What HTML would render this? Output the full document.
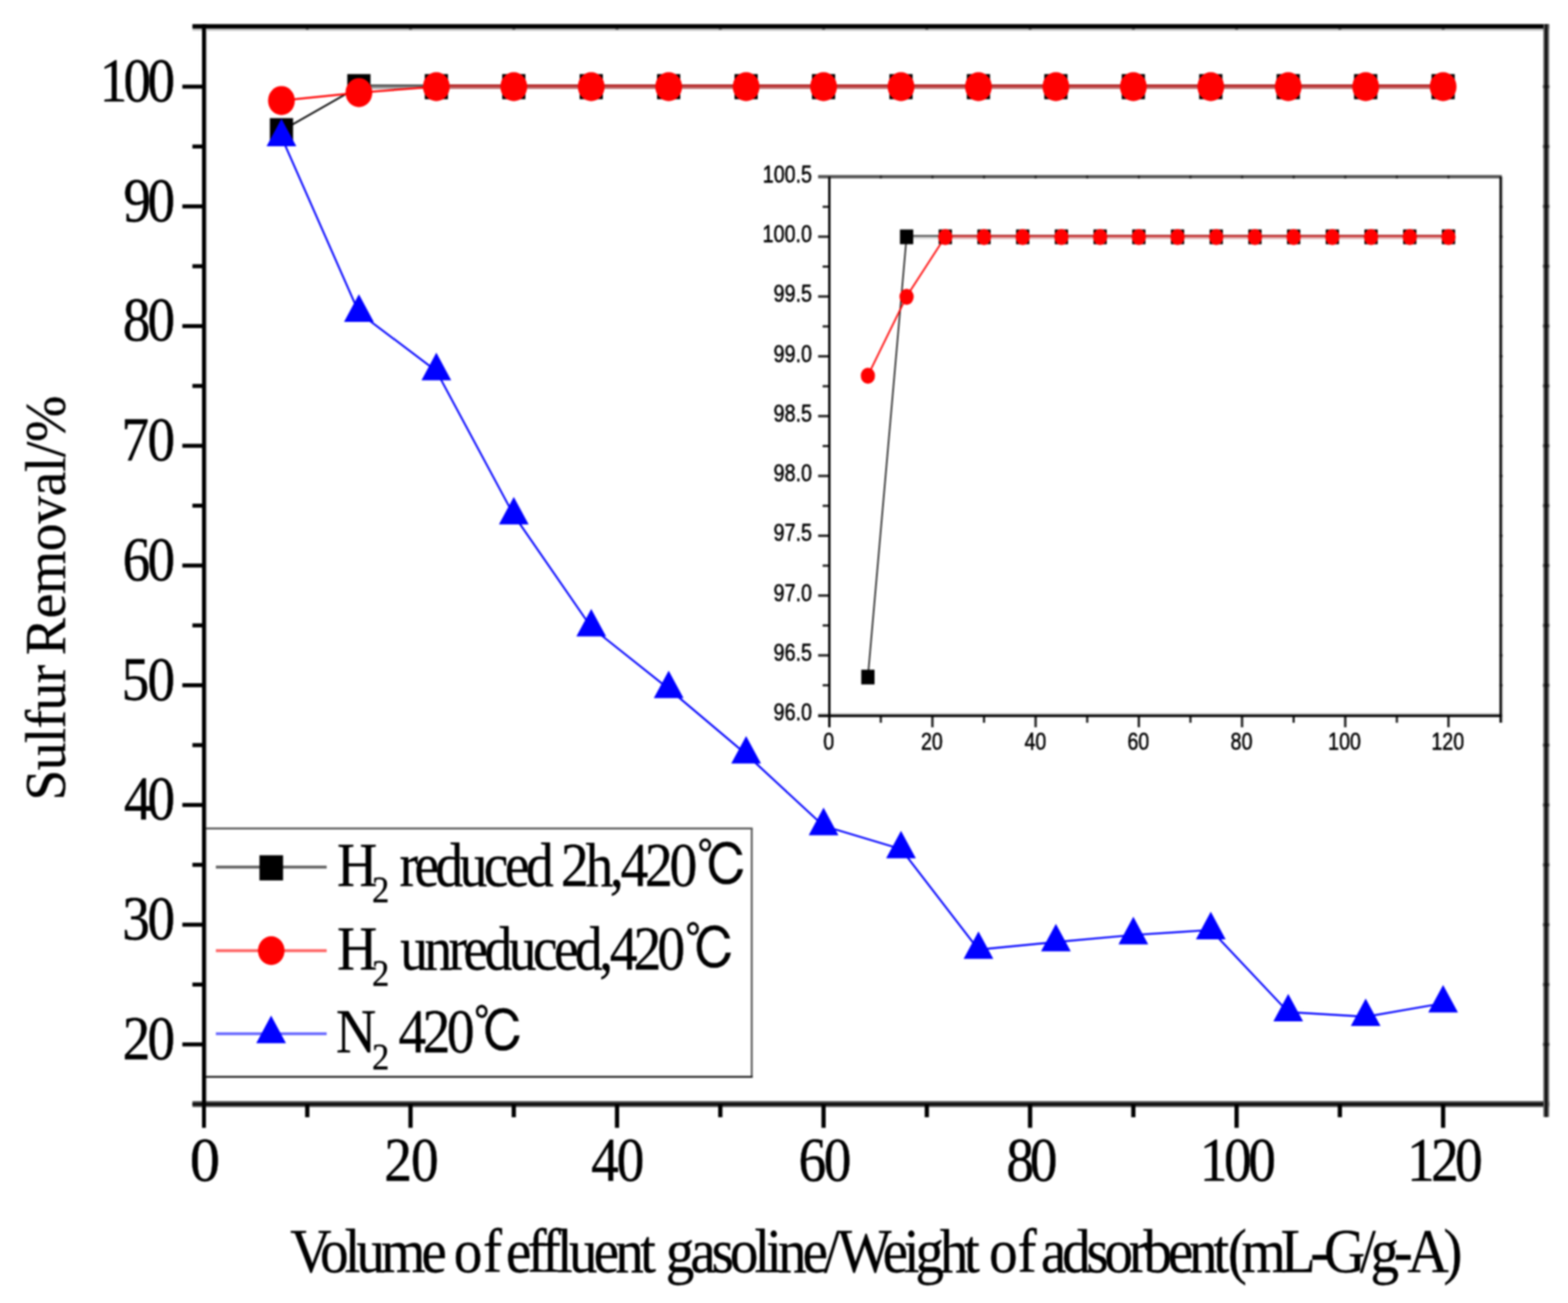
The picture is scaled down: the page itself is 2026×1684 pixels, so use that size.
<!DOCTYPE html>
<html lang="en"><head><meta charset="utf-8"><title>Sulfur Removal vs Volume of effluent gasoline</title>
<style>
html,body{margin:0;padding:0;background:#fff;}
body{width:2026px;height:1684px;overflow:hidden;}
svg{display:block;}
text{white-space:pre;}
</style></head><body>
<svg width="2026" height="1684" viewBox="0 0 2026 1684" style="filter:blur(0.8px)">
<rect x="0" y="0" width="2026" height="1684" fill="#fff"/>
<rect x="263.6" y="1070.8" width="707.6999999999999" height="320.9000000000001" fill="#fff" stroke="none"/>
<line x1="363.67" y1="168.94" x2="463.73" y2="112.00" stroke="#000" stroke-width="2.4" stroke-opacity="0.95" stroke-linecap="round"/>
<rect x="463.73" y="109.10" width="100.07" height="3.4" fill="#555"/>
<rect x="463.73" y="112.50" width="100.07" height="2.4" fill="#a0a0a0"/>
<rect x="563.80" y="109.10" width="100.06" height="3.4" fill="#555"/>
<rect x="563.80" y="112.50" width="100.06" height="2.4" fill="#a0a0a0"/>
<rect x="663.86" y="109.10" width="100.07" height="3.4" fill="#555"/>
<rect x="663.86" y="112.50" width="100.07" height="2.4" fill="#a0a0a0"/>
<rect x="763.93" y="109.10" width="100.06" height="3.4" fill="#555"/>
<rect x="763.93" y="112.50" width="100.06" height="2.4" fill="#a0a0a0"/>
<rect x="863.99" y="109.10" width="100.07" height="3.4" fill="#555"/>
<rect x="863.99" y="112.50" width="100.07" height="2.4" fill="#a0a0a0"/>
<rect x="964.06" y="109.10" width="100.06" height="3.4" fill="#555"/>
<rect x="964.06" y="112.50" width="100.06" height="2.4" fill="#a0a0a0"/>
<rect x="1064.12" y="109.10" width="100.07" height="3.4" fill="#555"/>
<rect x="1064.12" y="112.50" width="100.07" height="2.4" fill="#a0a0a0"/>
<rect x="1164.18" y="109.10" width="100.07" height="3.4" fill="#555"/>
<rect x="1164.18" y="112.50" width="100.07" height="2.4" fill="#a0a0a0"/>
<rect x="1264.25" y="109.10" width="100.07" height="3.4" fill="#555"/>
<rect x="1264.25" y="112.50" width="100.07" height="2.4" fill="#a0a0a0"/>
<rect x="1364.32" y="109.10" width="100.07" height="3.4" fill="#555"/>
<rect x="1364.32" y="112.50" width="100.07" height="2.4" fill="#a0a0a0"/>
<rect x="1464.38" y="109.10" width="100.07" height="3.4" fill="#555"/>
<rect x="1464.38" y="112.50" width="100.07" height="2.4" fill="#a0a0a0"/>
<rect x="1564.45" y="109.10" width="100.07" height="3.4" fill="#555"/>
<rect x="1564.45" y="112.50" width="100.07" height="2.4" fill="#a0a0a0"/>
<rect x="1664.51" y="109.10" width="100.07" height="3.4" fill="#555"/>
<rect x="1664.51" y="112.50" width="100.07" height="2.4" fill="#a0a0a0"/>
<rect x="1764.58" y="109.10" width="100.06" height="3.4" fill="#555"/>
<rect x="1764.58" y="112.50" width="100.06" height="2.4" fill="#a0a0a0"/>
<rect x="348.67" y="152.69" width="30" height="32.5" fill="#000"/>
<rect x="448.73" y="95.75" width="30" height="32.5" fill="#000"/>
<rect x="548.80" y="95.75" width="30" height="32.5" fill="#000"/>
<rect x="648.86" y="95.75" width="30" height="32.5" fill="#000"/>
<rect x="748.93" y="95.75" width="30" height="32.5" fill="#000"/>
<rect x="848.99" y="95.75" width="30" height="32.5" fill="#000"/>
<rect x="949.06" y="95.75" width="30" height="32.5" fill="#000"/>
<rect x="1049.12" y="95.75" width="30" height="32.5" fill="#000"/>
<rect x="1149.18" y="95.75" width="30" height="32.5" fill="#000"/>
<rect x="1249.25" y="95.75" width="30" height="32.5" fill="#000"/>
<rect x="1349.32" y="95.75" width="30" height="32.5" fill="#000"/>
<rect x="1449.38" y="95.75" width="30" height="32.5" fill="#000"/>
<rect x="1549.45" y="95.75" width="30" height="32.5" fill="#000"/>
<rect x="1649.51" y="95.75" width="30" height="32.5" fill="#000"/>
<rect x="1749.58" y="95.75" width="30" height="32.5" fill="#000"/>
<rect x="1849.64" y="95.75" width="30" height="32.5" fill="#000"/>
<line x1="363.67" y1="129.95" x2="463.73" y2="119.74" stroke="#f00" stroke-width="2.4" stroke-opacity="1.0" stroke-linecap="round"/>
<line x1="463.73" y1="119.74" x2="563.80" y2="112.00" stroke="#f00" stroke-width="2.4" stroke-opacity="1.0" stroke-linecap="round"/>
<rect x="563.80" y="109.10" width="100.06" height="3.4" fill="#ba2828"/>
<rect x="563.80" y="112.50" width="100.06" height="2.4" fill="#c46a6a"/>
<rect x="663.86" y="109.10" width="100.07" height="3.4" fill="#ba2828"/>
<rect x="663.86" y="112.50" width="100.07" height="2.4" fill="#c46a6a"/>
<rect x="763.93" y="109.10" width="100.06" height="3.4" fill="#ba2828"/>
<rect x="763.93" y="112.50" width="100.06" height="2.4" fill="#c46a6a"/>
<rect x="863.99" y="109.10" width="100.07" height="3.4" fill="#ba2828"/>
<rect x="863.99" y="112.50" width="100.07" height="2.4" fill="#c46a6a"/>
<rect x="964.06" y="109.10" width="100.06" height="3.4" fill="#ba2828"/>
<rect x="964.06" y="112.50" width="100.06" height="2.4" fill="#c46a6a"/>
<rect x="1064.12" y="109.10" width="100.07" height="3.4" fill="#ba2828"/>
<rect x="1064.12" y="112.50" width="100.07" height="2.4" fill="#c46a6a"/>
<rect x="1164.18" y="109.10" width="100.07" height="3.4" fill="#ba2828"/>
<rect x="1164.18" y="112.50" width="100.07" height="2.4" fill="#c46a6a"/>
<rect x="1264.25" y="109.10" width="100.07" height="3.4" fill="#ba2828"/>
<rect x="1264.25" y="112.50" width="100.07" height="2.4" fill="#c46a6a"/>
<rect x="1364.32" y="109.10" width="100.07" height="3.4" fill="#ba2828"/>
<rect x="1364.32" y="112.50" width="100.07" height="2.4" fill="#c46a6a"/>
<rect x="1464.38" y="109.10" width="100.07" height="3.4" fill="#ba2828"/>
<rect x="1464.38" y="112.50" width="100.07" height="2.4" fill="#c46a6a"/>
<rect x="1564.45" y="109.10" width="100.07" height="3.4" fill="#ba2828"/>
<rect x="1564.45" y="112.50" width="100.07" height="2.4" fill="#c46a6a"/>
<rect x="1664.51" y="109.10" width="100.07" height="3.4" fill="#ba2828"/>
<rect x="1664.51" y="112.50" width="100.07" height="2.4" fill="#c46a6a"/>
<rect x="1764.58" y="109.10" width="100.06" height="3.4" fill="#ba2828"/>
<rect x="1764.58" y="112.50" width="100.06" height="2.4" fill="#c46a6a"/>
<ellipse cx="363.67" cy="129.95" rx="17.3" ry="18.8" fill="#f00"/>
<ellipse cx="463.73" cy="119.74" rx="17.3" ry="18.8" fill="#f00"/>
<ellipse cx="563.80" cy="112.00" rx="17.3" ry="18.8" fill="#f00"/>
<ellipse cx="663.86" cy="112.00" rx="17.3" ry="18.8" fill="#f00"/>
<ellipse cx="763.93" cy="112.00" rx="17.3" ry="18.8" fill="#f00"/>
<ellipse cx="863.99" cy="112.00" rx="17.3" ry="18.8" fill="#f00"/>
<ellipse cx="964.06" cy="112.00" rx="17.3" ry="18.8" fill="#f00"/>
<ellipse cx="1064.12" cy="112.00" rx="17.3" ry="18.8" fill="#f00"/>
<ellipse cx="1164.18" cy="112.00" rx="17.3" ry="18.8" fill="#f00"/>
<ellipse cx="1264.25" cy="112.00" rx="17.3" ry="18.8" fill="#f00"/>
<ellipse cx="1364.32" cy="112.00" rx="17.3" ry="18.8" fill="#f00"/>
<ellipse cx="1464.38" cy="112.00" rx="17.3" ry="18.8" fill="#f00"/>
<ellipse cx="1564.45" cy="112.00" rx="17.3" ry="18.8" fill="#f00"/>
<ellipse cx="1664.51" cy="112.00" rx="17.3" ry="18.8" fill="#f00"/>
<ellipse cx="1764.58" cy="112.00" rx="17.3" ry="18.8" fill="#f00"/>
<ellipse cx="1864.64" cy="112.00" rx="17.3" ry="18.8" fill="#f00"/>
<line x1="363.67" y1="176.98" x2="463.73" y2="403.97" stroke="#00f" stroke-width="2.4" stroke-opacity="1.0" stroke-linecap="round"/>
<line x1="463.73" y1="403.97" x2="563.80" y2="479.47" stroke="#00f" stroke-width="2.4" stroke-opacity="1.0" stroke-linecap="round"/>
<line x1="563.80" y1="479.47" x2="663.86" y2="665.76" stroke="#00f" stroke-width="2.4" stroke-opacity="1.0" stroke-linecap="round"/>
<line x1="663.86" y1="665.76" x2="763.93" y2="810.58" stroke="#00f" stroke-width="2.4" stroke-opacity="1.0" stroke-linecap="round"/>
<line x1="763.93" y1="810.58" x2="863.99" y2="890.27" stroke="#00f" stroke-width="2.4" stroke-opacity="1.0" stroke-linecap="round"/>
<line x1="863.99" y1="890.27" x2="964.06" y2="974.75" stroke="#00f" stroke-width="2.4" stroke-opacity="1.0" stroke-linecap="round"/>
<line x1="964.06" y1="974.75" x2="1064.12" y2="1067.43" stroke="#00f" stroke-width="2.4" stroke-opacity="1.0" stroke-linecap="round"/>
<line x1="1064.12" y1="1067.43" x2="1164.18" y2="1097.29" stroke="#00f" stroke-width="2.4" stroke-opacity="1.0" stroke-linecap="round"/>
<line x1="1164.18" y1="1097.29" x2="1264.25" y2="1227.26" stroke="#00f" stroke-width="2.4" stroke-opacity="1.0" stroke-linecap="round"/>
<line x1="1264.25" y1="1227.26" x2="1364.32" y2="1217.51" stroke="#00f" stroke-width="2.4" stroke-opacity="1.0" stroke-linecap="round"/>
<line x1="1364.32" y1="1217.51" x2="1464.38" y2="1208.38" stroke="#00f" stroke-width="2.4" stroke-opacity="1.0" stroke-linecap="round"/>
<line x1="1464.38" y1="1208.38" x2="1564.45" y2="1201.88" stroke="#00f" stroke-width="2.4" stroke-opacity="1.0" stroke-linecap="round"/>
<line x1="1564.45" y1="1201.88" x2="1664.51" y2="1308.02" stroke="#00f" stroke-width="2.4" stroke-opacity="1.0" stroke-linecap="round"/>
<line x1="1664.51" y1="1308.02" x2="1764.58" y2="1314.06" stroke="#00f" stroke-width="2.4" stroke-opacity="1.0" stroke-linecap="round"/>
<line x1="1764.58" y1="1314.06" x2="1864.64" y2="1296.57" stroke="#00f" stroke-width="2.4" stroke-opacity="1.0" stroke-linecap="round"/>
<polygon points="363.67,153.38 382.87,188.98 344.47,188.98" fill="#00f"/>
<polygon points="463.73,380.37 482.93,415.97 444.53,415.97" fill="#00f"/>
<polygon points="563.80,455.87 583.00,491.47 544.60,491.47" fill="#00f"/>
<polygon points="663.86,642.16 683.06,677.76 644.66,677.76" fill="#00f"/>
<polygon points="763.93,786.98 783.13,822.58 744.73,822.58" fill="#00f"/>
<polygon points="863.99,866.67 883.19,902.27 844.79,902.27" fill="#00f"/>
<polygon points="964.06,951.15 983.26,986.75 944.86,986.75" fill="#00f"/>
<polygon points="1064.12,1043.83 1083.32,1079.43 1044.92,1079.43" fill="#00f"/>
<polygon points="1164.18,1073.69 1183.38,1109.29 1144.98,1109.29" fill="#00f"/>
<polygon points="1264.25,1203.66 1283.45,1239.26 1245.05,1239.26" fill="#00f"/>
<polygon points="1364.32,1193.91 1383.52,1229.51 1345.12,1229.51" fill="#00f"/>
<polygon points="1464.38,1184.78 1483.58,1220.38 1445.18,1220.38" fill="#00f"/>
<polygon points="1564.45,1178.28 1583.65,1213.88 1545.25,1213.88" fill="#00f"/>
<polygon points="1664.51,1284.42 1683.71,1320.02 1645.31,1320.02" fill="#00f"/>
<polygon points="1764.58,1290.46 1783.78,1326.06 1745.38,1326.06" fill="#00f"/>
<polygon points="1864.64,1272.97 1883.84,1308.57 1845.44,1308.57" fill="#00f"/>
<line x1="278.90" y1="1120.60" x2="422.10" y2="1120.60" stroke="#000" stroke-width="3.6" stroke-opacity="0.62"/>
<rect x="335.25" y="1105.35" width="30.5" height="32.5" fill="#000"/>
<line x1="278.90" y1="1228.60" x2="422.10" y2="1228.60" stroke="#f00" stroke-width="3.6" stroke-opacity="0.62"/>
<ellipse cx="350.50" cy="1228.60" rx="17.2" ry="18.6" fill="#f00"/>
<line x1="278.90" y1="1336.00" x2="422.10" y2="1336.00" stroke="#00f" stroke-width="3.6" stroke-opacity="0.62"/>
<polygon points="350.30,1312.40 369.50,1348.20 331.10,1348.20" fill="#00f"/>
<rect x="265.80" y="31.20" width="1.80" height="1391.80" fill="#cfcfcf"/>
<rect x="248.60" y="36.70" width="1753.00" height="3.10" fill="#c4c4c4"/>
<rect x="248.60" y="31.20" width="1753.00" height="5.70" fill="#000"/>
<rect x="248.60" y="1423.00" width="1753.00" height="7.80" fill="#505050"/>
<rect x="248.60" y="1425.70" width="1753.00" height="2.70" fill="#000"/>
<rect x="261.00" y="31.20" width="5.10" height="1426.40" fill="#000"/>
<rect x="1994.10" y="31.20" width="7.50" height="1412.40" fill="#5c5c5c"/>
<rect x="1996.60" y="31.20" width="2.50" height="1412.40" fill="#000"/>
<line x1="266.00" y1="1070.80" x2="972.50" y2="1070.80" stroke="#555" stroke-width="2.6" />
<line x1="971.30" y1="1070.80" x2="971.30" y2="1391.70" stroke="#555" stroke-width="2.4" />
<line x1="266.00" y1="1391.70" x2="972.50" y2="1391.70" stroke="#222" stroke-width="2.6" />
<line x1="235.60" y1="1349.80" x2="263.60" y2="1349.80" stroke="#000" stroke-width="5.2" />
<line x1="235.60" y1="1195.08" x2="263.60" y2="1195.08" stroke="#000" stroke-width="5.2" />
<line x1="235.60" y1="1040.35" x2="263.60" y2="1040.35" stroke="#000" stroke-width="5.2" />
<line x1="235.60" y1="885.62" x2="263.60" y2="885.62" stroke="#000" stroke-width="5.2" />
<line x1="235.60" y1="730.90" x2="263.60" y2="730.90" stroke="#000" stroke-width="5.2" />
<line x1="235.60" y1="576.17" x2="263.60" y2="576.17" stroke="#000" stroke-width="5.2" />
<line x1="235.60" y1="421.45" x2="263.60" y2="421.45" stroke="#000" stroke-width="5.2" />
<line x1="235.60" y1="266.73" x2="263.60" y2="266.73" stroke="#000" stroke-width="5.2" />
<line x1="235.60" y1="112.00" x2="263.60" y2="112.00" stroke="#000" stroke-width="5.2" />
<line x1="248.60" y1="1272.44" x2="263.60" y2="1272.44" stroke="#000" stroke-width="5.2" />
<line x1="248.60" y1="1117.71" x2="263.60" y2="1117.71" stroke="#000" stroke-width="5.2" />
<line x1="248.60" y1="962.99" x2="263.60" y2="962.99" stroke="#000" stroke-width="5.2" />
<line x1="248.60" y1="808.26" x2="263.60" y2="808.26" stroke="#000" stroke-width="5.2" />
<line x1="248.60" y1="653.54" x2="263.60" y2="653.54" stroke="#000" stroke-width="5.2" />
<line x1="248.60" y1="498.81" x2="263.60" y2="498.81" stroke="#000" stroke-width="5.2" />
<line x1="248.60" y1="344.09" x2="263.60" y2="344.09" stroke="#000" stroke-width="5.2" />
<line x1="248.60" y1="189.36" x2="263.60" y2="189.36" stroke="#000" stroke-width="5.2" />
<line x1="530.44" y1="1426.60" x2="530.44" y2="1457.60" stroke="#000" stroke-width="5.5" />
<line x1="797.28" y1="1426.60" x2="797.28" y2="1457.60" stroke="#000" stroke-width="5.5" />
<line x1="1064.12" y1="1426.60" x2="1064.12" y2="1457.60" stroke="#000" stroke-width="5.5" />
<line x1="1330.96" y1="1426.60" x2="1330.96" y2="1457.60" stroke="#000" stroke-width="5.5" />
<line x1="1597.80" y1="1426.60" x2="1597.80" y2="1457.60" stroke="#000" stroke-width="5.5" />
<line x1="1864.64" y1="1426.60" x2="1864.64" y2="1457.60" stroke="#000" stroke-width="5.5" />
<line x1="397.02" y1="1426.60" x2="397.02" y2="1443.90" stroke="#000" stroke-width="5.5" />
<line x1="663.86" y1="1426.60" x2="663.86" y2="1443.90" stroke="#000" stroke-width="5.5" />
<line x1="930.70" y1="1426.60" x2="930.70" y2="1443.90" stroke="#000" stroke-width="5.5" />
<line x1="1197.54" y1="1426.60" x2="1197.54" y2="1443.90" stroke="#000" stroke-width="5.5" />
<line x1="1464.38" y1="1426.60" x2="1464.38" y2="1443.90" stroke="#000" stroke-width="5.5" />
<line x1="1731.22" y1="1426.60" x2="1731.22" y2="1443.90" stroke="#000" stroke-width="5.5" />
<line x1="397.02" y1="34.30" x2="397.02" y2="38.50" stroke="#000" stroke-width="4" stroke-opacity="0.45"/>
<line x1="530.44" y1="34.30" x2="530.44" y2="38.50" stroke="#000" stroke-width="4" stroke-opacity="0.45"/>
<line x1="663.86" y1="34.30" x2="663.86" y2="38.50" stroke="#000" stroke-width="4" stroke-opacity="0.45"/>
<line x1="797.28" y1="34.30" x2="797.28" y2="38.50" stroke="#000" stroke-width="4" stroke-opacity="0.45"/>
<line x1="930.70" y1="34.30" x2="930.70" y2="38.50" stroke="#000" stroke-width="4" stroke-opacity="0.45"/>
<line x1="1064.12" y1="34.30" x2="1064.12" y2="38.50" stroke="#000" stroke-width="4" stroke-opacity="0.45"/>
<line x1="1197.54" y1="34.30" x2="1197.54" y2="38.50" stroke="#000" stroke-width="4" stroke-opacity="0.45"/>
<line x1="1330.96" y1="34.30" x2="1330.96" y2="38.50" stroke="#000" stroke-width="4" stroke-opacity="0.45"/>
<line x1="1464.38" y1="34.30" x2="1464.38" y2="38.50" stroke="#000" stroke-width="4" stroke-opacity="0.45"/>
<line x1="1597.80" y1="34.30" x2="1597.80" y2="38.50" stroke="#000" stroke-width="4" stroke-opacity="0.45"/>
<line x1="1731.22" y1="34.30" x2="1731.22" y2="38.50" stroke="#000" stroke-width="4" stroke-opacity="0.45"/>
<line x1="1864.64" y1="34.30" x2="1864.64" y2="38.50" stroke="#000" stroke-width="4" stroke-opacity="0.45"/>
<line x1="1993.30" y1="1349.80" x2="2002.30" y2="1349.80" stroke="#000" stroke-width="4" stroke-opacity="0.4"/>
<line x1="1993.30" y1="1272.44" x2="2002.30" y2="1272.44" stroke="#000" stroke-width="4" stroke-opacity="0.4"/>
<line x1="1993.30" y1="1195.08" x2="2002.30" y2="1195.08" stroke="#000" stroke-width="4" stroke-opacity="0.4"/>
<line x1="1993.30" y1="1117.71" x2="2002.30" y2="1117.71" stroke="#000" stroke-width="4" stroke-opacity="0.4"/>
<line x1="1993.30" y1="1040.35" x2="2002.30" y2="1040.35" stroke="#000" stroke-width="4" stroke-opacity="0.4"/>
<line x1="1993.30" y1="962.99" x2="2002.30" y2="962.99" stroke="#000" stroke-width="4" stroke-opacity="0.4"/>
<line x1="1993.30" y1="885.62" x2="2002.30" y2="885.62" stroke="#000" stroke-width="4" stroke-opacity="0.4"/>
<line x1="1993.30" y1="808.26" x2="2002.30" y2="808.26" stroke="#000" stroke-width="4" stroke-opacity="0.4"/>
<line x1="1993.30" y1="730.90" x2="2002.30" y2="730.90" stroke="#000" stroke-width="4" stroke-opacity="0.4"/>
<line x1="1993.30" y1="653.54" x2="2002.30" y2="653.54" stroke="#000" stroke-width="4" stroke-opacity="0.4"/>
<line x1="1993.30" y1="576.17" x2="2002.30" y2="576.17" stroke="#000" stroke-width="4" stroke-opacity="0.4"/>
<line x1="1993.30" y1="498.81" x2="2002.30" y2="498.81" stroke="#000" stroke-width="4" stroke-opacity="0.4"/>
<line x1="1993.30" y1="421.45" x2="2002.30" y2="421.45" stroke="#000" stroke-width="4" stroke-opacity="0.4"/>
<line x1="1993.30" y1="344.09" x2="2002.30" y2="344.09" stroke="#000" stroke-width="4" stroke-opacity="0.4"/>
<line x1="1993.30" y1="266.73" x2="2002.30" y2="266.73" stroke="#000" stroke-width="4" stroke-opacity="0.4"/>
<line x1="1993.30" y1="189.36" x2="2002.30" y2="189.36" stroke="#000" stroke-width="4" stroke-opacity="0.4"/>
<line x1="1993.30" y1="112.00" x2="2002.30" y2="112.00" stroke="#000" stroke-width="4" stroke-opacity="0.4"/>
<line x1="1121.41" y1="874.83" x2="1171.42" y2="305.90" stroke="#000" stroke-width="2.0" stroke-opacity="0.85" stroke-linecap="round"/>
<rect x="1171.42" y="303.70" width="50.01" height="2.6" fill="#555"/>
<rect x="1171.42" y="306.30" width="50.01" height="2.6" fill="#d7d7d7"/>
<rect x="1221.43" y="303.70" width="50.01" height="2.6" fill="#555"/>
<rect x="1221.43" y="306.30" width="50.01" height="2.6" fill="#d7d7d7"/>
<rect x="1271.44" y="303.70" width="50.01" height="2.6" fill="#555"/>
<rect x="1271.44" y="306.30" width="50.01" height="2.6" fill="#d7d7d7"/>
<rect x="1321.45" y="303.70" width="50.01" height="2.6" fill="#555"/>
<rect x="1321.45" y="306.30" width="50.01" height="2.6" fill="#d7d7d7"/>
<rect x="1371.46" y="303.70" width="50.01" height="2.6" fill="#555"/>
<rect x="1371.46" y="306.30" width="50.01" height="2.6" fill="#d7d7d7"/>
<rect x="1421.47" y="303.70" width="50.01" height="2.6" fill="#555"/>
<rect x="1421.47" y="306.30" width="50.01" height="2.6" fill="#d7d7d7"/>
<rect x="1471.48" y="303.70" width="50.01" height="2.6" fill="#555"/>
<rect x="1471.48" y="306.30" width="50.01" height="2.6" fill="#d7d7d7"/>
<rect x="1521.49" y="303.70" width="50.01" height="2.6" fill="#555"/>
<rect x="1521.49" y="306.30" width="50.01" height="2.6" fill="#d7d7d7"/>
<rect x="1571.50" y="303.70" width="50.01" height="2.6" fill="#555"/>
<rect x="1571.50" y="306.30" width="50.01" height="2.6" fill="#d7d7d7"/>
<rect x="1621.51" y="303.70" width="50.01" height="2.6" fill="#555"/>
<rect x="1621.51" y="306.30" width="50.01" height="2.6" fill="#d7d7d7"/>
<rect x="1671.52" y="303.70" width="50.01" height="2.6" fill="#555"/>
<rect x="1671.52" y="306.30" width="50.01" height="2.6" fill="#d7d7d7"/>
<rect x="1721.53" y="303.70" width="50.01" height="2.6" fill="#555"/>
<rect x="1721.53" y="306.30" width="50.01" height="2.6" fill="#d7d7d7"/>
<rect x="1771.54" y="303.70" width="50.01" height="2.6" fill="#555"/>
<rect x="1771.54" y="306.30" width="50.01" height="2.6" fill="#d7d7d7"/>
<rect x="1821.55" y="303.70" width="50.01" height="2.6" fill="#555"/>
<rect x="1821.55" y="306.30" width="50.01" height="2.6" fill="#d7d7d7"/>
<rect x="1112.81" y="865.53" width="17.2" height="19" fill="#000"/>
<rect x="1162.82" y="296.60" width="17.2" height="19" fill="#000"/>
<rect x="1212.83" y="296.60" width="17.2" height="19" fill="#000"/>
<rect x="1262.84" y="296.60" width="17.2" height="19" fill="#000"/>
<rect x="1312.85" y="296.60" width="17.2" height="19" fill="#000"/>
<rect x="1362.86" y="296.60" width="17.2" height="19" fill="#000"/>
<rect x="1412.87" y="296.60" width="17.2" height="19" fill="#000"/>
<rect x="1462.88" y="296.60" width="17.2" height="19" fill="#000"/>
<rect x="1512.89" y="296.60" width="17.2" height="19" fill="#000"/>
<rect x="1562.90" y="296.60" width="17.2" height="19" fill="#000"/>
<rect x="1612.91" y="296.60" width="17.2" height="19" fill="#000"/>
<rect x="1662.92" y="296.60" width="17.2" height="19" fill="#000"/>
<rect x="1712.93" y="296.60" width="17.2" height="19" fill="#000"/>
<rect x="1762.94" y="296.60" width="17.2" height="19" fill="#000"/>
<rect x="1812.95" y="296.60" width="17.2" height="19" fill="#000"/>
<rect x="1862.96" y="296.60" width="17.2" height="19" fill="#000"/>
<line x1="1121.41" y1="485.24" x2="1171.42" y2="383.20" stroke="#f00" stroke-width="2.2" stroke-opacity="0.95" stroke-linecap="round"/>
<line x1="1171.42" y1="383.20" x2="1221.43" y2="305.90" stroke="#f00" stroke-width="2.2" stroke-opacity="0.95" stroke-linecap="round"/>
<rect x="1221.43" y="303.70" width="50.01" height="2.6" fill="#c31e1e"/>
<rect x="1221.43" y="306.30" width="50.01" height="2.6" fill="#e1aaaa"/>
<rect x="1271.44" y="303.70" width="50.01" height="2.6" fill="#c31e1e"/>
<rect x="1271.44" y="306.30" width="50.01" height="2.6" fill="#e1aaaa"/>
<rect x="1321.45" y="303.70" width="50.01" height="2.6" fill="#c31e1e"/>
<rect x="1321.45" y="306.30" width="50.01" height="2.6" fill="#e1aaaa"/>
<rect x="1371.46" y="303.70" width="50.01" height="2.6" fill="#c31e1e"/>
<rect x="1371.46" y="306.30" width="50.01" height="2.6" fill="#e1aaaa"/>
<rect x="1421.47" y="303.70" width="50.01" height="2.6" fill="#c31e1e"/>
<rect x="1421.47" y="306.30" width="50.01" height="2.6" fill="#e1aaaa"/>
<rect x="1471.48" y="303.70" width="50.01" height="2.6" fill="#c31e1e"/>
<rect x="1471.48" y="306.30" width="50.01" height="2.6" fill="#e1aaaa"/>
<rect x="1521.49" y="303.70" width="50.01" height="2.6" fill="#c31e1e"/>
<rect x="1521.49" y="306.30" width="50.01" height="2.6" fill="#e1aaaa"/>
<rect x="1571.50" y="303.70" width="50.01" height="2.6" fill="#c31e1e"/>
<rect x="1571.50" y="306.30" width="50.01" height="2.6" fill="#e1aaaa"/>
<rect x="1621.51" y="303.70" width="50.01" height="2.6" fill="#c31e1e"/>
<rect x="1621.51" y="306.30" width="50.01" height="2.6" fill="#e1aaaa"/>
<rect x="1671.52" y="303.70" width="50.01" height="2.6" fill="#c31e1e"/>
<rect x="1671.52" y="306.30" width="50.01" height="2.6" fill="#e1aaaa"/>
<rect x="1721.53" y="303.70" width="50.01" height="2.6" fill="#c31e1e"/>
<rect x="1721.53" y="306.30" width="50.01" height="2.6" fill="#e1aaaa"/>
<rect x="1771.54" y="303.70" width="50.01" height="2.6" fill="#c31e1e"/>
<rect x="1771.54" y="306.30" width="50.01" height="2.6" fill="#e1aaaa"/>
<rect x="1821.55" y="303.70" width="50.01" height="2.6" fill="#c31e1e"/>
<rect x="1821.55" y="306.30" width="50.01" height="2.6" fill="#e1aaaa"/>
<ellipse cx="1121.41" cy="485.64" rx="9.2" ry="10.4" fill="#f00"/>
<ellipse cx="1171.42" cy="383.60" rx="9.2" ry="10.4" fill="#f00"/>
<ellipse cx="1221.43" cy="306.30" rx="9.2" ry="10.4" fill="#f00"/>
<ellipse cx="1271.44" cy="306.30" rx="9.2" ry="10.4" fill="#f00"/>
<ellipse cx="1321.45" cy="306.30" rx="9.2" ry="10.4" fill="#f00"/>
<ellipse cx="1371.46" cy="306.30" rx="9.2" ry="10.4" fill="#f00"/>
<ellipse cx="1421.47" cy="306.30" rx="9.2" ry="10.4" fill="#f00"/>
<ellipse cx="1471.48" cy="306.30" rx="9.2" ry="10.4" fill="#f00"/>
<ellipse cx="1521.49" cy="306.30" rx="9.2" ry="10.4" fill="#f00"/>
<ellipse cx="1571.50" cy="306.30" rx="9.2" ry="10.4" fill="#f00"/>
<ellipse cx="1621.51" cy="306.30" rx="9.2" ry="10.4" fill="#f00"/>
<ellipse cx="1671.52" cy="306.30" rx="9.2" ry="10.4" fill="#f00"/>
<ellipse cx="1721.53" cy="306.30" rx="9.2" ry="10.4" fill="#f00"/>
<ellipse cx="1771.54" cy="306.30" rx="9.2" ry="10.4" fill="#f00"/>
<ellipse cx="1821.55" cy="306.30" rx="9.2" ry="10.4" fill="#f00"/>
<ellipse cx="1871.56" cy="306.30" rx="9.2" ry="10.4" fill="#f00"/>
<line x1="1057.10" y1="228.40" x2="1940.50" y2="228.40" stroke="#000" stroke-width="4.2" stroke-opacity="0.68"/>
<line x1="1057.10" y1="922.70" x2="1940.50" y2="922.70" stroke="#cfcfcf" stroke-width="2.2" />
<line x1="1941.30" y1="228.40" x2="1941.30" y2="934.10" stroke="#cfcfcf" stroke-width="1.8" />
<line x1="1057.10" y1="925.10" x2="1940.50" y2="925.10" stroke="#000" stroke-width="3.2" />
<line x1="1071.60" y1="228.40" x2="1071.60" y2="939.90" stroke="#000" stroke-width="3.0" />
<line x1="1939.00" y1="228.40" x2="1939.00" y2="934.10" stroke="#000" stroke-width="3.0" />
<line x1="1062.90" y1="885.65" x2="1071.60" y2="885.65" stroke="#000" stroke-width="3.0" stroke-opacity="0.85"/>
<line x1="1057.10" y1="847.00" x2="1071.60" y2="847.00" stroke="#000" stroke-width="3.2" stroke-opacity="0.85"/>
<line x1="1062.90" y1="808.35" x2="1071.60" y2="808.35" stroke="#000" stroke-width="3.0" stroke-opacity="0.85"/>
<line x1="1057.10" y1="769.70" x2="1071.60" y2="769.70" stroke="#000" stroke-width="3.2" stroke-opacity="0.85"/>
<line x1="1062.90" y1="731.05" x2="1071.60" y2="731.05" stroke="#000" stroke-width="3.0" stroke-opacity="0.85"/>
<line x1="1057.10" y1="692.40" x2="1071.60" y2="692.40" stroke="#000" stroke-width="3.2" stroke-opacity="0.85"/>
<line x1="1062.90" y1="653.75" x2="1071.60" y2="653.75" stroke="#000" stroke-width="3.0" stroke-opacity="0.85"/>
<line x1="1057.10" y1="615.10" x2="1071.60" y2="615.10" stroke="#000" stroke-width="3.2" stroke-opacity="0.85"/>
<line x1="1062.90" y1="576.45" x2="1071.60" y2="576.45" stroke="#000" stroke-width="3.0" stroke-opacity="0.85"/>
<line x1="1057.10" y1="537.80" x2="1071.60" y2="537.80" stroke="#000" stroke-width="3.2" stroke-opacity="0.85"/>
<line x1="1062.90" y1="499.15" x2="1071.60" y2="499.15" stroke="#000" stroke-width="3.0" stroke-opacity="0.85"/>
<line x1="1057.10" y1="460.50" x2="1071.60" y2="460.50" stroke="#000" stroke-width="3.2" stroke-opacity="0.85"/>
<line x1="1062.90" y1="421.85" x2="1071.60" y2="421.85" stroke="#000" stroke-width="3.0" stroke-opacity="0.85"/>
<line x1="1057.10" y1="383.20" x2="1071.60" y2="383.20" stroke="#000" stroke-width="3.2" stroke-opacity="0.85"/>
<line x1="1062.90" y1="344.55" x2="1071.60" y2="344.55" stroke="#000" stroke-width="3.0" stroke-opacity="0.85"/>
<line x1="1057.10" y1="305.90" x2="1071.60" y2="305.90" stroke="#000" stroke-width="3.2" stroke-opacity="0.85"/>
<line x1="1062.90" y1="267.25" x2="1071.60" y2="267.25" stroke="#000" stroke-width="3.0" stroke-opacity="0.85"/>
<line x1="1204.76" y1="924.60" x2="1204.76" y2="939.90" stroke="#000" stroke-width="3.2" stroke-opacity="0.85"/>
<line x1="1338.12" y1="924.60" x2="1338.12" y2="939.90" stroke="#000" stroke-width="3.2" stroke-opacity="0.85"/>
<line x1="1471.48" y1="924.60" x2="1471.48" y2="939.90" stroke="#000" stroke-width="3.2" stroke-opacity="0.85"/>
<line x1="1604.84" y1="924.60" x2="1604.84" y2="939.90" stroke="#000" stroke-width="3.2" stroke-opacity="0.85"/>
<line x1="1738.20" y1="924.60" x2="1738.20" y2="939.90" stroke="#000" stroke-width="3.2" stroke-opacity="0.85"/>
<line x1="1871.56" y1="924.60" x2="1871.56" y2="939.90" stroke="#000" stroke-width="3.2" stroke-opacity="0.85"/>
<line x1="1138.08" y1="924.60" x2="1138.08" y2="934.10" stroke="#000" stroke-width="3.0" stroke-opacity="0.85"/>
<line x1="1271.44" y1="924.60" x2="1271.44" y2="934.10" stroke="#000" stroke-width="3.0" stroke-opacity="0.85"/>
<line x1="1404.80" y1="924.60" x2="1404.80" y2="934.10" stroke="#000" stroke-width="3.0" stroke-opacity="0.85"/>
<line x1="1538.16" y1="924.60" x2="1538.16" y2="934.10" stroke="#000" stroke-width="3.0" stroke-opacity="0.85"/>
<line x1="1671.52" y1="924.60" x2="1671.52" y2="934.10" stroke="#000" stroke-width="3.0" stroke-opacity="0.85"/>
<line x1="1804.88" y1="924.60" x2="1804.88" y2="934.10" stroke="#000" stroke-width="3.0" stroke-opacity="0.85"/>
<line x1="1138.08" y1="226.90" x2="1138.08" y2="230.70" stroke="#000" stroke-width="3" stroke-opacity="0.55"/>
<line x1="1204.76" y1="226.90" x2="1204.76" y2="230.70" stroke="#000" stroke-width="3" stroke-opacity="0.55"/>
<line x1="1271.44" y1="226.90" x2="1271.44" y2="230.70" stroke="#000" stroke-width="3" stroke-opacity="0.55"/>
<line x1="1338.12" y1="226.90" x2="1338.12" y2="230.70" stroke="#000" stroke-width="3" stroke-opacity="0.55"/>
<line x1="1404.80" y1="226.90" x2="1404.80" y2="230.70" stroke="#000" stroke-width="3" stroke-opacity="0.55"/>
<line x1="1471.48" y1="226.90" x2="1471.48" y2="230.70" stroke="#000" stroke-width="3" stroke-opacity="0.55"/>
<line x1="1538.16" y1="226.90" x2="1538.16" y2="230.70" stroke="#000" stroke-width="3" stroke-opacity="0.55"/>
<line x1="1604.84" y1="226.90" x2="1604.84" y2="230.70" stroke="#000" stroke-width="3" stroke-opacity="0.55"/>
<line x1="1671.52" y1="226.90" x2="1671.52" y2="230.70" stroke="#000" stroke-width="3" stroke-opacity="0.55"/>
<line x1="1738.20" y1="226.90" x2="1738.20" y2="230.70" stroke="#000" stroke-width="3" stroke-opacity="0.55"/>
<line x1="1804.88" y1="226.90" x2="1804.88" y2="230.70" stroke="#000" stroke-width="3" stroke-opacity="0.55"/>
<line x1="1871.56" y1="226.90" x2="1871.56" y2="230.70" stroke="#000" stroke-width="3" stroke-opacity="0.55"/>
<line x1="1937.50" y1="885.65" x2="1941.60" y2="885.65" stroke="#000" stroke-width="3" stroke-opacity="0.45"/>
<line x1="1937.50" y1="847.00" x2="1941.60" y2="847.00" stroke="#000" stroke-width="3" stroke-opacity="0.45"/>
<line x1="1937.50" y1="808.35" x2="1941.60" y2="808.35" stroke="#000" stroke-width="3" stroke-opacity="0.45"/>
<line x1="1937.50" y1="769.70" x2="1941.60" y2="769.70" stroke="#000" stroke-width="3" stroke-opacity="0.45"/>
<line x1="1937.50" y1="731.05" x2="1941.60" y2="731.05" stroke="#000" stroke-width="3" stroke-opacity="0.45"/>
<line x1="1937.50" y1="692.40" x2="1941.60" y2="692.40" stroke="#000" stroke-width="3" stroke-opacity="0.45"/>
<line x1="1937.50" y1="653.75" x2="1941.60" y2="653.75" stroke="#000" stroke-width="3" stroke-opacity="0.45"/>
<line x1="1937.50" y1="615.10" x2="1941.60" y2="615.10" stroke="#000" stroke-width="3" stroke-opacity="0.45"/>
<line x1="1937.50" y1="576.45" x2="1941.60" y2="576.45" stroke="#000" stroke-width="3" stroke-opacity="0.45"/>
<line x1="1937.50" y1="537.80" x2="1941.60" y2="537.80" stroke="#000" stroke-width="3" stroke-opacity="0.45"/>
<line x1="1937.50" y1="499.15" x2="1941.60" y2="499.15" stroke="#000" stroke-width="3" stroke-opacity="0.45"/>
<line x1="1937.50" y1="460.50" x2="1941.60" y2="460.50" stroke="#000" stroke-width="3" stroke-opacity="0.45"/>
<line x1="1937.50" y1="421.85" x2="1941.60" y2="421.85" stroke="#000" stroke-width="3" stroke-opacity="0.45"/>
<line x1="1937.50" y1="383.20" x2="1941.60" y2="383.20" stroke="#000" stroke-width="3" stroke-opacity="0.45"/>
<line x1="1937.50" y1="344.55" x2="1941.60" y2="344.55" stroke="#000" stroke-width="3" stroke-opacity="0.45"/>
<line x1="1937.50" y1="305.90" x2="1941.60" y2="305.90" stroke="#000" stroke-width="3" stroke-opacity="0.45"/>
<line x1="1937.50" y1="267.25" x2="1941.60" y2="267.25" stroke="#000" stroke-width="3" stroke-opacity="0.45"/>
<text transform="matrix(0.7134 0 0 0.8044 158.44 1368.75)" font-family='"Liberation Serif", serif' font-size="100" fill="#000" stroke="#000" stroke-width="0.5" vector-effect="non-scaling-stroke" stroke-linejoin="round" letter-spacing="-5.010">20</text>
<text transform="matrix(0.7134 0 0 0.8044 158.08 1214.02)" font-family='"Liberation Serif", serif' font-size="100" fill="#000" stroke="#000" stroke-width="0.5" vector-effect="non-scaling-stroke" stroke-linejoin="round" letter-spacing="-4.510">30</text>
<text transform="matrix(0.7134 0 0 0.8044 160.22 1059.30)" font-family='"Liberation Serif", serif' font-size="100" fill="#000" stroke="#000" stroke-width="0.5" vector-effect="non-scaling-stroke" stroke-linejoin="round" letter-spacing="-7.510">40</text>
<text transform="matrix(0.7134 0 0 0.8044 157.37 904.57)" font-family='"Liberation Serif", serif' font-size="100" fill="#000" stroke="#000" stroke-width="0.5" vector-effect="non-scaling-stroke" stroke-linejoin="round" letter-spacing="-3.510">50</text>
<text transform="matrix(0.7134 0 0 0.8044 158.44 749.85)" font-family='"Liberation Serif", serif' font-size="100" fill="#000" stroke="#000" stroke-width="0.5" vector-effect="non-scaling-stroke" stroke-linejoin="round" letter-spacing="-5.010">60</text>
<text transform="matrix(0.7134 0 0 0.8044 157.01 595.12)" font-family='"Liberation Serif", serif' font-size="100" fill="#000" stroke="#000" stroke-width="0.5" vector-effect="non-scaling-stroke" stroke-linejoin="round" letter-spacing="-3.010">70</text>
<text transform="matrix(0.7134 0 0 0.8044 158.80 440.40)" font-family='"Liberation Serif", serif' font-size="100" fill="#000" stroke="#000" stroke-width="0.5" vector-effect="non-scaling-stroke" stroke-linejoin="round" letter-spacing="-5.510">80</text>
<text transform="matrix(0.7134 0 0 0.8044 159.51 285.67)" font-family='"Liberation Serif", serif' font-size="100" fill="#000" stroke="#000" stroke-width="0.5" vector-effect="non-scaling-stroke" stroke-linejoin="round" letter-spacing="-6.510">90</text>
<text transform="matrix(0.7134 0 0 0.8044 128.63 130.95)" font-family='"Liberation Serif", serif' font-size="100" fill="#000" stroke="#000" stroke-width="0.5" vector-effect="non-scaling-stroke" stroke-linejoin="round" letter-spacing="-6.611">100</text>
<text transform="matrix(0.7833 0 0 0.8089 245.22 1525.94)" font-family='"Liberation Serif", serif' font-size="100" fill="#000" stroke="#000" stroke-width="0.5" vector-effect="non-scaling-stroke" stroke-linejoin="round">0</text>
<text transform="matrix(0.7173 0 0 0.8089 496.42 1525.94)" font-family='"Liberation Serif", serif' font-size="100" fill="#000" stroke="#000" stroke-width="0.5" vector-effect="non-scaling-stroke" stroke-linejoin="round" letter-spacing="-1.860">20</text>
<text transform="matrix(0.7173 0 0 0.8089 763.82 1525.94)" font-family='"Liberation Serif", serif' font-size="100" fill="#000" stroke="#000" stroke-width="0.5" vector-effect="non-scaling-stroke" stroke-linejoin="round" letter-spacing="-4.082">40</text>
<text transform="matrix(0.7173 0 0 0.8089 1031.72 1525.94)" font-family='"Liberation Serif", serif' font-size="100" fill="#000" stroke="#000" stroke-width="0.5" vector-effect="non-scaling-stroke" stroke-linejoin="round" letter-spacing="-4.649">60</text>
<text transform="matrix(0.7173 0 0 0.8089 1300.28 1525.94)" font-family='"Liberation Serif", serif' font-size="100" fill="#000" stroke="#000" stroke-width="0.5" vector-effect="non-scaling-stroke" stroke-linejoin="round" letter-spacing="-7.797">80</text>
<text transform="matrix(0.7173 0 0 0.8089 1550.29 1525.94)" font-family='"Liberation Serif", serif' font-size="100" fill="#000" stroke="#000" stroke-width="0.5" vector-effect="non-scaling-stroke" stroke-linejoin="round" letter-spacing="-6.463">100</text>
<text transform="matrix(0.7173 0 0 0.8089 1817.89 1525.94)" font-family='"Liberation Serif", serif' font-size="100" fill="#000" stroke="#000" stroke-width="0.5" vector-effect="non-scaling-stroke" stroke-linejoin="round" letter-spacing="-6.742">120</text>
<text transform="matrix(0.7400 0 0 0.8000 0 1644.00)" font-family='"Liberation Serif", serif' font-size="100" fill="#000" stroke="#000" stroke-width="0.5" vector-effect="non-scaling-stroke" stroke-linejoin="round"><tspan x="506.64" letter-spacing="-7.135">Volume </tspan><tspan x="792.37" letter-spacing="1.000">of </tspan><tspan x="883.50" letter-spacing="-6.763">effluent </tspan><tspan x="1162.46" letter-spacing="-7.147">gasoline/</tspan><tspan x="1462.50" letter-spacing="-7.559">Weight </tspan><tspan x="1726.88" letter-spacing="-0.041">of </tspan><tspan x="1817.51" letter-spacing="-7.488">adsorbent</tspan><tspan x="2143.81" letter-spacing="-9.395">(mL-G/g-A)</tspan></text>
<text transform="matrix(0 -0.7200 0.7350 0 84.00 0)" font-family='"Liberation Serif", serif' font-size="100" fill="#000" stroke="#000" stroke-width="0.5" vector-effect="non-scaling-stroke" stroke-linejoin="round"><tspan x="-1437.12" letter-spacing="-1.278">Sulfur </tspan><tspan x="-1175.99" letter-spacing="-0.774">Removal/%</tspan></text>
<text transform="matrix(0.7200 0 0 0.7950 0 1144.60)" font-family='"Liberation Serif", serif' font-size="100" fill="#000" stroke="#000" stroke-width="0.5" vector-effect="non-scaling-stroke" stroke-linejoin="round"><tspan x="604.71">H</tspan><tspan x="667.84" dy="27.04" font-size="62.0">2 </tspan><tspan x="716.96" dy="-27.04" letter-spacing="-6.625">reduced </tspan><tspan x="1006.68" letter-spacing="-6.050">2h,420</tspan><tspan x="1250.42" font-size="93.0" font-family='"Liberation Serif", "IPAGothic", "Noto Sans CJK JP", sans-serif'>℃</tspan></text>
<text transform="matrix(0.7200 0 0 0.7950 0 1252.80)" font-family='"Liberation Serif", serif' font-size="100" fill="#000" stroke="#000" stroke-width="0.5" vector-effect="non-scaling-stroke" stroke-linejoin="round"><tspan x="604.71">H</tspan><tspan x="667.84" dy="27.04" font-size="62.0">2 </tspan><tspan x="718.01" dy="-27.04" letter-spacing="-6.577">unreduced,</tspan><tspan x="1094.18" letter-spacing="-7.347">420</tspan><tspan x="1228.47" font-size="93.0" font-family='"Liberation Serif", "IPAGothic", "Noto Sans CJK JP", sans-serif'>℃</tspan></text>
<text transform="matrix(0.7200 0 0 0.7950 0 1360.00)" font-family='"Liberation Serif", serif' font-size="100" fill="#000" stroke="#000" stroke-width="0.5" vector-effect="non-scaling-stroke" stroke-linejoin="round"><tspan x="602.90">N</tspan><tspan x="667.84" dy="27.04" font-size="62.0">2 </tspan><tspan x="714.88" dy="-27.04" letter-spacing="-6.514">420</tspan><tspan x="849.31" font-size="93.0" font-family='"Liberation Serif", "IPAGothic", "Noto Sans CJK JP", sans-serif'>℃</tspan></text>
<text transform="matrix(0.2545 0 0 0.3042 999.62 931.30)" font-family='"Liberation Sans", sans-serif' font-size="100" fill="#000" stroke="#000" stroke-width="0.6" vector-effect="non-scaling-stroke" stroke-linejoin="round">96.0</text>
<text transform="matrix(0.2545 0 0 0.3042 999.62 854.00)" font-family='"Liberation Sans", sans-serif' font-size="100" fill="#000" stroke="#000" stroke-width="0.6" vector-effect="non-scaling-stroke" stroke-linejoin="round">96.5</text>
<text transform="matrix(0.2545 0 0 0.3042 999.62 776.70)" font-family='"Liberation Sans", sans-serif' font-size="100" fill="#000" stroke="#000" stroke-width="0.6" vector-effect="non-scaling-stroke" stroke-linejoin="round">97.0</text>
<text transform="matrix(0.2545 0 0 0.3042 999.62 699.40)" font-family='"Liberation Sans", sans-serif' font-size="100" fill="#000" stroke="#000" stroke-width="0.6" vector-effect="non-scaling-stroke" stroke-linejoin="round">97.5</text>
<text transform="matrix(0.2545 0 0 0.3042 999.62 622.10)" font-family='"Liberation Sans", sans-serif' font-size="100" fill="#000" stroke="#000" stroke-width="0.6" vector-effect="non-scaling-stroke" stroke-linejoin="round">98.0</text>
<text transform="matrix(0.2545 0 0 0.3042 999.62 544.80)" font-family='"Liberation Sans", sans-serif' font-size="100" fill="#000" stroke="#000" stroke-width="0.6" vector-effect="non-scaling-stroke" stroke-linejoin="round">98.5</text>
<text transform="matrix(0.2545 0 0 0.3042 999.62 467.50)" font-family='"Liberation Sans", sans-serif' font-size="100" fill="#000" stroke="#000" stroke-width="0.6" vector-effect="non-scaling-stroke" stroke-linejoin="round">99.0</text>
<text transform="matrix(0.2545 0 0 0.3042 999.62 390.20)" font-family='"Liberation Sans", sans-serif' font-size="100" fill="#000" stroke="#000" stroke-width="0.6" vector-effect="non-scaling-stroke" stroke-linejoin="round">99.5</text>
<text transform="matrix(0.2545 0 0 0.3042 985.37 312.90)" font-family='"Liberation Sans", sans-serif' font-size="100" fill="#000" stroke="#000" stroke-width="0.6" vector-effect="non-scaling-stroke" stroke-linejoin="round">100.0</text>
<text transform="matrix(0.2545 0 0 0.3042 985.49 235.60)" font-family='"Liberation Sans", sans-serif' font-size="100" fill="#000" stroke="#000" stroke-width="0.6" vector-effect="non-scaling-stroke" stroke-linejoin="round">100.5</text>
<text transform="matrix(0.2540 0 0 0.3070 1063.85 969.09)" font-family='"Liberation Sans", sans-serif' font-size="100" fill="#000" stroke="#000" stroke-width="0.6" vector-effect="non-scaling-stroke" stroke-linejoin="round">0</text>
<text transform="matrix(0.2540 0 0 0.3070 1189.97 969.09)" font-family='"Liberation Sans", sans-serif' font-size="100" fill="#000" stroke="#000" stroke-width="0.6" vector-effect="non-scaling-stroke" stroke-linejoin="round">20</text>
<text transform="matrix(0.2540 0 0 0.3070 1323.65 969.09)" font-family='"Liberation Sans", sans-serif' font-size="100" fill="#000" stroke="#000" stroke-width="0.6" vector-effect="non-scaling-stroke" stroke-linejoin="round">40</text>
<text transform="matrix(0.2540 0 0 0.3070 1456.69 969.09)" font-family='"Liberation Sans", sans-serif' font-size="100" fill="#000" stroke="#000" stroke-width="0.6" vector-effect="non-scaling-stroke" stroke-linejoin="round">60</text>
<text transform="matrix(0.2540 0 0 0.3070 1590.12 969.09)" font-family='"Liberation Sans", sans-serif' font-size="100" fill="#000" stroke="#000" stroke-width="0.6" vector-effect="non-scaling-stroke" stroke-linejoin="round">80</text>
<text transform="matrix(0.2540 0 0 0.3070 1716.05 969.09)" font-family='"Liberation Sans", sans-serif' font-size="100" fill="#000" stroke="#000" stroke-width="0.6" vector-effect="non-scaling-stroke" stroke-linejoin="round">100</text>
<text transform="matrix(0.2540 0 0 0.3070 1849.41 969.09)" font-family='"Liberation Sans", sans-serif' font-size="100" fill="#000" stroke="#000" stroke-width="0.6" vector-effect="non-scaling-stroke" stroke-linejoin="round">120</text>
</svg>
</body></html>
